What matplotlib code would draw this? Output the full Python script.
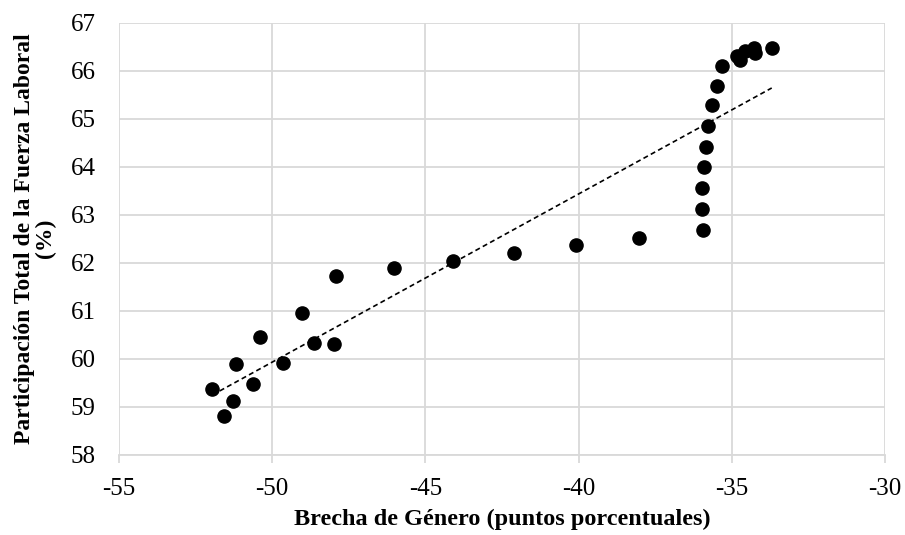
import numpy as np
import matplotlib.pyplot as plt

plt.rcParams['font.family'] = ['Liberation Serif', 'DejaVu Serif']

# Brecha de genero (x) y participacion total (y)
brecha = [-51.95, -51.59, -51.28, -51.18, -50.64, -50.40, -49.65, -49.03, -48.64, -47.97,
          -47.91, -46.03, -44.10, -42.12, -40.08, -38.02, -35.95, -35.97, -35.96, -35.92,
          -35.86, -35.77, -35.64, -35.50, -35.32, -34.82, -34.75, -34.57, -34.28, -34.23,
          -33.70]
participacion = [59.36, 58.81, 59.13, 59.90, 59.48, 60.45, 59.92, 60.96, 60.32, 60.30,
                 61.73, 61.89, 62.04, 62.21, 62.36, 62.51, 62.68, 63.12, 63.56, 64.00,
                 64.42, 64.85, 65.28, 65.69, 66.09, 66.31, 66.23, 66.40, 66.48, 66.36,
                 66.47]

x = np.array(brecha)
y = np.array(participacion)

fig = plt.figure(figsize=(9.05, 5.35), dpi=100)
ax = fig.add_axes([0.1315, 0.150, 0.8465, 0.8076])

ax.scatter(x, y, s=90, color='black', zorder=3)

# linea de tendencia lineal
m, b = np.polyfit(x, y, 1)
xt = np.array([x.min(), x.max()])
ax.plot(xt, m * xt + b, color='black', lw=1.2, ls=(0, (3, 2)), zorder=2)

ax.set_xlim(-55, -30)
ax.set_ylim(58, 67)
ax.set_xticks(np.arange(-55, -29, 5))
ax.set_yticks(np.arange(58, 68, 1))
ax.set_xticklabels([f'-{abs(v)}' for v in range(55, 29, -5)])

ax.grid(True, color='#d9d9d9', lw=1.3, zorder=0)
ax.set_axisbelow(True)
for s in ['top', 'right', 'left']:
    ax.spines[s].set_visible(False)
ax.spines['bottom'].set_color('#d9d9d9')
ax.spines['bottom'].set_linewidth(1.3)
ax.tick_params(axis='x', color='#d9d9d9', length=6, width=1.3, labelsize=18, pad=11)
ax.tick_params(axis='y', length=0, labelsize=18, pad=17)

ax.set_xlabel('Brecha de Género (puntos porcentuales)', fontsize=17.5,
              fontweight='bold', labelpad=6)
ax.set_ylabel('Participación Total de la Fuerza Laboral\n(%)', fontsize=17,
              fontweight='bold', labelpad=10, linespacing=1.0)

fig.savefig('out.png', dpi=100)
